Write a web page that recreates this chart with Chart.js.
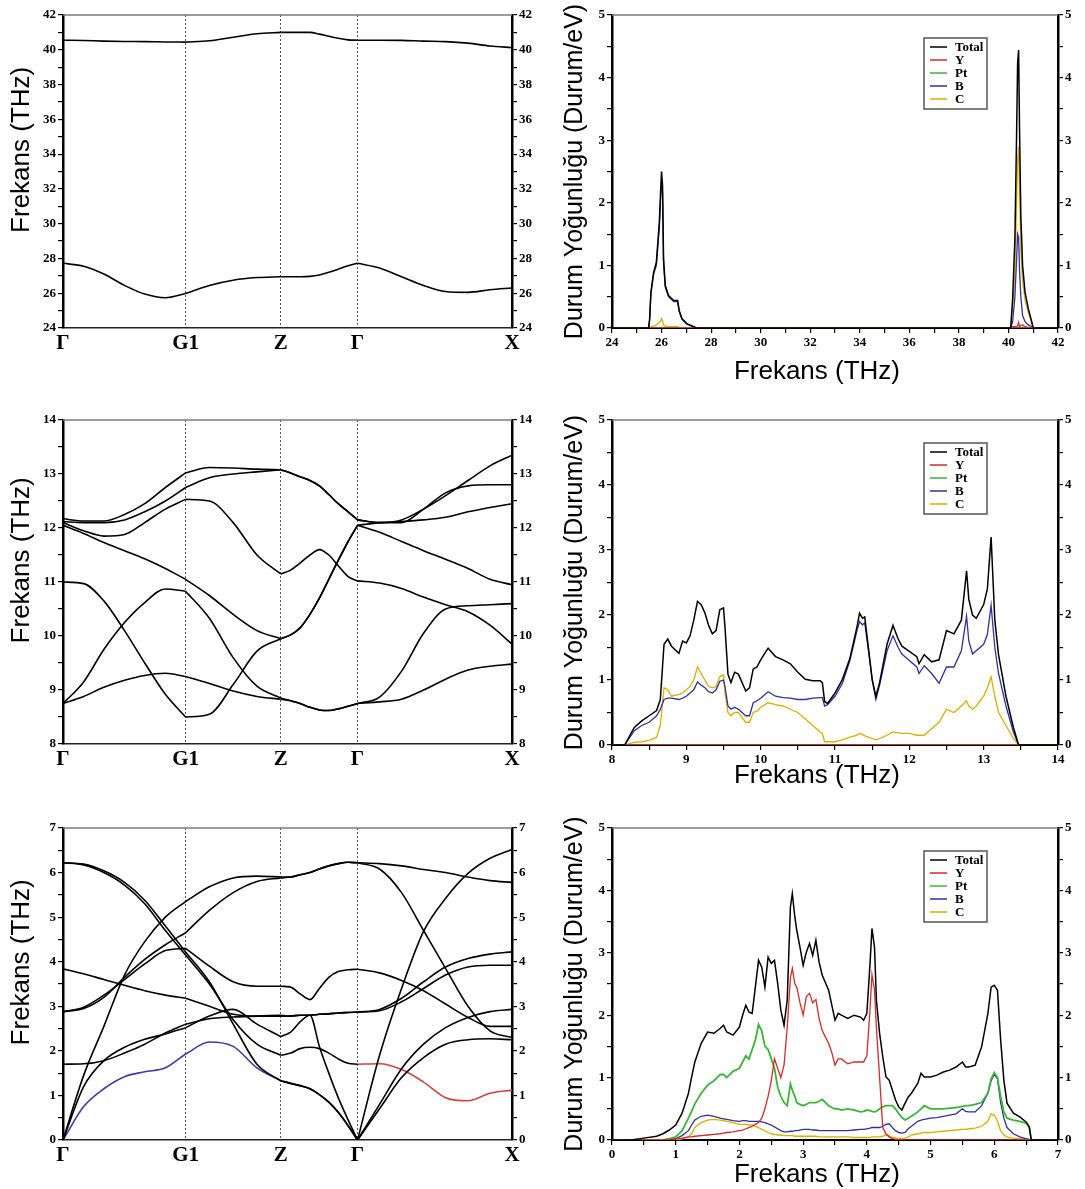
<!DOCTYPE html>
<html>
<head>
<meta charset="utf-8">
<script src="https://cdn.jsdelivr.net/npm/chart.js@4.4.0/dist/chart.umd.min.js"></script>
<style>
  body { margin: 0; background: #fff; width: 1085px; height: 1189px; position: relative; overflow: hidden; }
  canvas { position: absolute; }
</style>
</head>
<body>
<canvas id="bandTop" width="545" height="390" style="left:0;top:0"></canvas>
<canvas id="dosTop" width="540" height="390" style="left:545px;top:0"></canvas>
<canvas id="bandMid" width="545" height="400" style="left:0;top:390px"></canvas>
<canvas id="dosMid" width="540" height="400" style="left:545px;top:390px"></canvas>
<canvas id="bandLow" width="545" height="399" style="left:0;top:790px"></canvas>
<canvas id="dosLow" width="540" height="399" style="left:545px;top:790px"></canvas>
<script>
// ---- k-path (fractional distance along Γ-G1-Z-Γ-X) ----
const kPath = [0, 0.046, 0.091, 0.137, 0.182, 0.228, 0.273,
               0.326, 0.379, 0.432, 0.485,
               0.507, 0.528, 0.55, 0.571, 0.592, 0.613, 0.635, 0.656,
               0.705, 0.754, 0.803, 0.852, 0.902, 0.951, 1];
const segStarts = [0, 6, 10, 18, 25];
const kTicks = [0, 0.273, 0.485, 0.656, 1];
const kLabels = ['Γ', 'G1', 'Z', 'Γ', 'X'];

// ---- phonon branches, 24-42 THz ----
const topHi = [40.55, 40.53, 40.5, 40.48, 40.47, 40.45, 40.44, 40.52, 40.72, 40.92, 41.0,
               41.0, 41.0, 41.0, 40.9, 40.78, 40.66, 40.57, 40.55,
               40.55, 40.54, 40.5, 40.47, 40.38, 40.22, 40.12];
const topLo = [27.72, 27.55, 27.1, 26.45, 25.95, 25.74, 25.98, 26.45, 26.75, 26.9, 26.95,
               26.95, 26.95, 26.97, 27.05, 27.2, 27.38, 27.58, 27.72,
               27.45, 26.95, 26.45, 26.1, 26.05, 26.2, 26.3];

// ---- phonon branches, 8-14 THz ----
const midA = [12.17, 12.13, 12.13, 12.25, 12.45, 12.75, 13.02, 13.12, 13.11, 13.09, 13.08,
              13.02, 12.95, 12.88, 12.78, 12.62, 12.45, 12.3, 12.15,
              12.1, 12.15, 12.35, 12.6, 12.88, 13.15, 13.35];
const midB = [12.12, 12.1, 12.1, 12.15, 12.3, 12.5, 12.75, 12.93, 13.0, 13.04, 13.08,
              13.02, 12.95, 12.88, 12.78, 12.62, 12.45, 12.3, 12.15,
              12.1, 12.1, 12.35, 12.65, 12.78, 12.8, 12.8];
const midC = [12.1, 11.95, 11.85, 11.88, 12.1, 12.35, 12.53, 12.5, 12.1, 11.5, 11.15,
              11.22, 11.35, 11.5, 11.6, 11.5, 11.3, 11.1, 11.02,
              10.98, 10.88, 10.72, 10.58, 10.45, 10.2, 9.85];
const midD = [12.05, 11.9, 11.73, 11.58, 11.43, 11.25, 11.05, 10.75, 10.4, 10.1, 9.95,
              10.02, 10.15, 10.4, 10.7, 11.05, 11.4, 11.75, 12.05,
              12.1, 12.12, 12.15, 12.2, 12.3, 12.38, 12.45];
const midE = [11.0, 10.97, 10.65, 10.1, 9.5, 8.92, 8.5, 8.55, 9.1, 9.72, 9.95,
              10.02, 10.15, 10.4, 10.7, 11.05, 11.4, 11.75, 12.05,
              11.92, 11.75, 11.58, 11.42, 11.25, 11.05, 10.95];
const midF = [8.75, 9.15, 9.75, 10.25, 10.62, 10.87, 10.83, 10.33, 9.6, 9.07, 8.85,
              8.8, 8.75, 8.68, 8.63, 8.62, 8.65, 8.7, 8.75,
              8.87, 9.35, 10.05, 10.5, 10.56, 10.58, 10.6];
const midG = [8.75, 8.88, 9.05, 9.18, 9.27, 9.31, 9.25, 9.12, 8.98, 8.88, 8.83,
              8.8, 8.75, 8.68, 8.63, 8.62, 8.65, 8.7, 8.75,
              8.78, 8.83, 9.0, 9.2, 9.37, 9.44, 9.48];

// ---- phonon branches, 0-7 THz ----
const lowAc1 = [0, 0.75, 1.15, 1.42, 1.53, 1.62, 1.93, 2.2, 2.1, 1.62, 1.33,
                1.27, 1.22, 1.15, 1.02, 0.85, 0.62, 0.32, 0,
                0.7, 1.4, 1.85, 2.15, 2.25, 2.27, 2.25];
const lowDescA = [6.22, 6.19, 6.04, 5.78, 5.38, 4.8, 4.22, 3.55, 2.6, 1.7, 1.33,
                  1.27, 1.22, 1.15, 1.02, 0.85, 0.62, 0.32, 0,
                  0.8, 1.6, 2.15, 2.52, 2.75, 2.88, 2.93];
const lowDescB = [6.22, 6.17, 6.0, 5.72, 5.3, 4.7, 4.15, 3.5, 2.7, 2.15, 1.9,
                  1.95, 2.05, 2.08, 2.05, 1.95, 1.82, 1.72, 1.7,
                  1.71, 1.58, 1.3, 0.95, 0.88, 1.05, 1.12];
const lowHump = [2.88, 2.98, 3.25, 3.6, 3.95, 4.25, 4.3, 3.9, 3.55, 3.45, 3.45,
                 3.43, 3.28, 3.15, 3.4, 3.65, 3.78, 3.82, 3.83,
                 3.75, 3.58, 3.35, 3.05, 2.75, 2.55, 2.55];
const lowRise = [2.88, 2.95, 3.2, 3.65, 4.05, 4.38, 4.65, 5.15, 5.55, 5.8, 5.88,
                 5.9, 5.95, 6.0, 6.08, 6.15, 6.2, 6.23, 6.22,
                 6.08, 5.55, 4.7, 3.85, 3.0, 2.45, 2.3];
const lowAc2 = [0, 1.45, 2.55, 3.7, 4.45, 5.0, 5.35, 5.68, 5.88, 5.92, 5.9,
                5.9, 5.95, 6.0, 6.08, 6.15, 6.2, 6.23, 6.22,
                6.2, 6.15, 6.07, 6.0, 5.9, 5.82, 5.78];
const lowFlatA = [3.84, 3.73, 3.6, 3.47, 3.35, 3.25, 3.18, 3.0, 2.82, 2.78, 2.78,
                  2.78, 2.8, 2.8, 2.82, 2.83, 2.85, 2.86, 2.87,
                  2.93, 3.18, 3.55, 3.88, 4.07, 4.17, 4.22];
const lowFlatB = [1.7, 1.71, 1.78, 1.95, 2.15, 2.4, 2.6, 2.72, 2.76, 2.78, 2.8,
                  2.78, 2.8, 2.8, 2.82, 2.83, 2.85, 2.86, 2.87,
                  2.9, 3.1, 3.4, 3.7, 3.88, 3.92, 3.92];
const lowAc3 = [0, 1.2, 1.78, 2.08, 2.26, 2.38, 2.52, 2.78, 2.93, 2.6, 2.32,
                2.42, 2.65, 2.8, 2.1, 1.5, 0.95, 0.45, 0,
                1.9, 3.4, 4.68, 5.42, 5.98, 6.32, 6.52];

// ---- DOS, 24-42 THz ----
const dosTopFreq = [24, 25.48, 25.52, 25.57, 25.68, 25.79, 25.85, 25.91, 25.96, 26.0, 26.04,
                    26.08, 26.15, 26.28, 26.49, 26.65, 26.71, 26.82, 27.02, 27.3, 27.4,
                    40.09, 40.17, 40.26, 40.33, 40.37, 40.41, 40.45, 40.5, 40.57, 40.67,
                    40.8, 40.94, 41.0, 42];
const dosTopTotal = [0, 0, 0.15, 0.57, 0.89, 1.05, 1.37, 1.69, 2.16, 2.5, 2.27,
                     1.1, 0.68, 0.52, 0.44, 0.44, 0.28, 0.15, 0.07, 0.02, 0,
                     0, 0.47, 1.42, 3.12, 4.23, 4.44, 3.12, 1.79, 1.0, 0.57,
                     0.31, 0.1, 0, 0];
const dosTopB = [0, 0, 0.14, 0.55, 0.86, 1.0, 1.3, 1.6, 2.05, 2.35, 2.15,
                 1.05, 0.65, 0.5, 0.42, 0.42, 0.27, 0.14, 0.06, 0.02, 0,
                 0, 0.1, 0.5, 1.1, 1.5, 1.45, 0.9, 0.5, 0.2, 0.1,
                 0.05, 0.02, 0, 0];
const dosTopC = [0, 0, 0.01, 0.02, 0.03, 0.05, 0.07, 0.09, 0.11, 0.15, 0.12,
                 0.05, 0.03, 0.02, 0.02, 0.02, 0.01, 0.01, 0, 0, 0,
                 0, 0.35, 0.9, 2.0, 2.7, 2.9, 2.2, 1.25, 0.75, 0.45,
                 0.25, 0.08, 0, 0];
const dosTopYFreq = [24, 40.09, 40.17, 40.26, 40.33, 40.37, 40.41, 40.45, 40.5, 40.57, 40.67, 40.8, 40.94, 42];
const dosTopY = [0, 0, 0.02, 0.02, 0.02, 0.03, 0.09, 0.02, 0.04, 0.05, 0.02, 0.01, 0, 0];
const dosTopPtFreq = [24, 42];
const dosTopPt = [0, 0];

// ---- DOS, 8-14 THz ----
const dosMidFreq = [8, 8.17, 8.3, 8.4, 8.5, 8.6, 8.65, 8.7, 8.75, 8.8,
                    8.9, 8.95, 9.0, 9.05, 9.1, 9.15, 9.2, 9.25, 9.3, 9.35,
                    9.4, 9.45, 9.5, 9.52, 9.56, 9.6, 9.65, 9.7, 9.75, 9.8,
                    9.85, 9.9, 9.95, 10.0, 10.1, 10.2, 10.3, 10.4, 10.5, 10.6,
                    10.7, 10.8, 10.83, 10.86, 10.9, 11.0, 11.1, 11.2, 11.3, 11.33,
                    11.37, 11.4, 11.45, 11.5, 11.55, 11.6, 11.7, 11.78, 11.85, 11.9,
                    12.0, 12.1, 12.13, 12.2, 12.3, 12.4, 12.5, 12.6, 12.7, 12.77,
                    12.8, 12.85, 12.9, 13.0, 13.05, 13.1, 13.15, 13.2, 13.3, 13.4,
                    13.47, 14];
const dosMidTotal = [0, 0, 0.27, 0.37, 0.45, 0.53, 0.7, 1.55, 1.63, 1.52,
                     1.41, 1.6, 1.57, 1.68, 1.92, 2.21, 2.16, 2.03, 1.84, 1.71,
                     1.76, 2.08, 2.11, 1.81, 1.09, 0.96, 1.12, 1.09, 0.96, 0.83,
                     0.88, 1.17, 1.2, 1.31, 1.49, 1.36, 1.31, 1.25, 1.12, 1.01,
                     0.99, 0.99, 0.96, 0.67, 0.64, 0.8, 1.01, 1.33, 1.84, 2.03,
                     1.95, 1.97, 1.49, 1.01, 0.75, 0.96, 1.55, 1.84, 1.63, 1.52,
                     1.44, 1.36, 1.25, 1.39, 1.28, 1.31, 1.76, 1.71, 1.92, 2.68,
                     2.24, 2.0, 1.95, 2.16, 2.4, 3.2, 1.92, 1.39, 0.75, 0.27,
                     0, 0];
const dosMidB = [0, 0, 0.22, 0.3, 0.35, 0.45, 0.55, 0.7, 0.72, 0.72,
                 0.7, 0.72, 0.75, 0.8, 0.85, 0.97, 0.92, 0.88, 0.82, 0.8,
                 0.85, 0.98, 1.0, 0.9, 0.6, 0.55, 0.58, 0.55, 0.5, 0.45,
                 0.45, 0.65, 0.68, 0.72, 0.82, 0.75, 0.73, 0.72, 0.7, 0.7,
                 0.72, 0.73, 0.73, 0.6, 0.62, 0.75, 0.95, 1.3, 1.78, 1.9,
                 1.85, 1.88, 1.45, 1.0, 0.7, 0.92, 1.45, 1.68, 1.5, 1.4,
                 1.3, 1.2, 1.1, 1.22, 1.1, 0.95, 1.2, 1.2, 1.45, 1.98,
                 1.6, 1.4, 1.45, 1.55, 1.7, 2.15, 1.5, 1.1, 0.6, 0.2,
                 0, 0];
const dosMidC = [0, 0, 0.04, 0.05, 0.07, 0.12, 0.3, 0.88, 0.85, 0.75,
                 0.78, 0.8, 0.85, 0.9, 1.0, 1.2, 1.1, 1.0, 0.9, 0.88,
                 0.9, 1.05, 1.08, 0.8, 0.5, 0.45, 0.5, 0.5, 0.42, 0.35,
                 0.35, 0.5, 0.52, 0.58, 0.65, 0.62, 0.6, 0.55, 0.5, 0.4,
                 0.3, 0.2, 0.18, 0.05, 0.05, 0.05, 0.08, 0.12, 0.15, 0.18,
                 0.16, 0.14, 0.12, 0.1, 0.08, 0.1, 0.15, 0.2, 0.19, 0.18,
                 0.18, 0.15, 0.15, 0.15, 0.25, 0.35, 0.55, 0.5, 0.6, 0.68,
                 0.6, 0.55, 0.6, 0.75, 0.88, 1.05, 0.75, 0.5, 0.3, 0.1,
                 0, 0];
const dosMidYFreq = [8, 14];
const dosMidY = [0, 0];
const dosMidPtFreq = [8, 14];
const dosMidPt = [0, 0];

// ---- DOS, 0-7 THz ----
const dosLowFreq = [0, 0.3, 0.5, 0.7, 0.8, 0.9, 1.0, 1.1, 1.2, 1.25,
                    1.3, 1.4, 1.5, 1.6, 1.7, 1.75, 1.8, 1.9, 2.0, 2.05,
                    2.1, 2.15, 2.2, 2.25, 2.3, 2.35, 2.4, 2.45, 2.5, 2.55,
                    2.6, 2.65, 2.7, 2.75, 2.8, 2.83, 2.87, 2.9, 2.95, 3.0,
                    3.05, 3.1, 3.15, 3.2, 3.25, 3.3, 3.4, 3.45, 3.5, 3.55,
                    3.6, 3.7, 3.8, 3.9, 3.95, 4.0, 4.05, 4.08, 4.12, 4.15,
                    4.2, 4.25, 4.3, 4.35, 4.4, 4.45, 4.5, 4.55, 4.6, 4.65,
                    4.7, 4.8, 4.85, 4.9, 5.0, 5.1, 5.2, 5.3, 5.4, 5.5,
                    5.55, 5.6, 5.7, 5.8, 5.9, 5.95, 6.0, 6.05, 6.1, 6.15,
                    6.2, 6.3, 6.4, 6.5, 6.55, 6.58, 7];
const dosLowTotal = [0, 0, 0.03, 0.06, 0.1, 0.16, 0.24, 0.43, 0.75, 1.01,
                     1.25, 1.55, 1.73, 1.71, 1.79, 1.84, 1.73, 1.68, 1.81, 2.0,
                     2.16, 2.05, 2.03, 2.45, 2.88, 2.77, 2.45, 2.93, 2.83, 2.88,
                     2.51, 2.08, 1.84, 2.24, 3.73, 3.95, 3.57, 3.36, 3.09, 2.8,
                     3.01, 3.15, 2.96, 3.2, 2.85, 2.64, 2.4, 2.16, 1.92, 2.03,
                     2.0, 1.95, 2.0, 1.97, 1.92, 2.03, 2.83, 3.39, 3.09, 2.24,
                     1.71, 1.33, 1.01, 0.96, 0.8, 0.64, 0.53, 0.48, 0.59, 0.69,
                     0.75, 0.91, 1.07, 1.01, 1.01, 1.04, 1.09, 1.12, 1.17, 1.25,
                     1.17, 1.17, 1.2, 1.49, 2.03, 2.45, 2.48, 2.4, 1.6, 0.96,
                     0.59, 0.43, 0.37, 0.29, 0.21, 0, 0];
const dosLowY = [0, 0, 0, 0, 0, 0.01, 0.02, 0.03, 0.05, 0.05,
                 0.06, 0.07, 0.08, 0.09, 0.1, 0.11, 0.12, 0.13, 0.15, 0.16,
                 0.18, 0.2, 0.22, 0.25, 0.28, 0.35, 0.5, 0.7, 0.95, 1.3,
                 1.15, 1.0, 1.2, 1.8, 2.6, 2.75, 2.5, 2.45, 2.2, 2.0,
                 2.3, 2.35, 2.2, 2.25, 1.95, 1.75, 1.55, 1.4, 1.2, 1.3,
                 1.3, 1.22, 1.25, 1.25, 1.25, 1.35, 2.1, 2.65, 2.4, 1.8,
                 1.0, 0.2, 0.1, 0.05, 0.02, 0.01, 0, 0, 0, 0,
                 0, 0, 0, 0, 0, 0, 0, 0, 0, 0,
                 0, 0, 0, 0, 0, 0, 0, 0, 0, 0,
                 0, 0, 0, 0, 0, 0, 0];
const dosLowPt = [0, 0, 0, 0, 0, 0.02, 0.05, 0.15, 0.35, 0.46,
                  0.58, 0.75, 0.88, 0.95, 1.05, 1.05, 1.0, 1.1, 1.15, 1.25,
                  1.35, 1.3, 1.45, 1.6, 1.85, 1.75, 1.5, 1.45, 1.3, 1.15,
                  0.85, 0.7, 0.6, 0.55, 0.9, 0.8, 0.7, 0.6, 0.57, 0.55,
                  0.57, 0.6, 0.6, 0.6, 0.62, 0.65, 0.55, 0.52, 0.5, 0.5,
                  0.48, 0.5, 0.48, 0.45, 0.46, 0.48, 0.47, 0.46, 0.45, 0.46,
                  0.5, 0.53, 0.55, 0.55, 0.55, 0.5, 0.42, 0.36, 0.32, 0.35,
                  0.38, 0.45, 0.5, 0.55, 0.5, 0.5, 0.5, 0.51, 0.52, 0.54,
                  0.55, 0.55, 0.57, 0.6, 0.75, 0.98, 1.08, 1.0, 0.7, 0.45,
                  0.35, 0.32, 0.3, 0.27, 0.2, 0, 0];
const dosLowB = [0, 0, 0, 0, 0, 0, 0.02, 0.07, 0.15, 0.24,
                 0.32, 0.38, 0.4, 0.38, 0.35, 0.34, 0.33, 0.31, 0.3, 0.31,
                 0.31, 0.3, 0.3, 0.3, 0.3, 0.29, 0.28, 0.26, 0.24, 0.21,
                 0.18, 0.15, 0.13, 0.13, 0.14, 0.14, 0.15, 0.15, 0.16, 0.17,
                 0.17, 0.17, 0.16, 0.16, 0.15, 0.15, 0.15, 0.15, 0.15, 0.15,
                 0.15, 0.15, 0.16, 0.17, 0.17, 0.18, 0.19, 0.2, 0.2, 0.2,
                 0.2, 0.22, 0.25, 0.26, 0.2, 0.15, 0.12, 0.11, 0.12, 0.18,
                 0.22, 0.3, 0.32, 0.33, 0.35, 0.36, 0.38, 0.4, 0.42, 0.5,
                 0.46, 0.45, 0.45, 0.55, 0.75, 0.95, 1.05, 0.98, 0.6, 0.35,
                 0.2, 0.1, 0.05, 0.02, 0.01, 0, 0];
const dosLowC = [0, 0, 0, 0, 0, 0, 0, 0.02, 0.05, 0.1,
                 0.2, 0.28, 0.32, 0.33, 0.32, 0.31, 0.3, 0.28, 0.25, 0.25,
                 0.25, 0.24, 0.24, 0.22, 0.2, 0.17, 0.15, 0.12, 0.1, 0.09,
                 0.08, 0.08, 0.07, 0.07, 0.07, 0.07, 0.06, 0.06, 0.06, 0.06,
                 0.06, 0.06, 0.06, 0.06, 0.05, 0.05, 0.05, 0.05, 0.05, 0.05,
                 0.05, 0.05, 0.04, 0.04, 0.04, 0.04, 0.04, 0.05, 0.05, 0.05,
                 0.05, 0.06, 0.08, 0.07, 0.04, 0.03, 0.02, 0.02, 0.03, 0.05,
                 0.08, 0.1, 0.11, 0.12, 0.12, 0.13, 0.14, 0.15, 0.16, 0.17,
                 0.17, 0.18, 0.19, 0.22, 0.3, 0.42, 0.4, 0.3, 0.15, 0.08,
                 0.05, 0.03, 0.02, 0.01, 0, 0, 0];

// ---- axis tick labels ----
const freqLabelsTop = [24, 26, 28, 30, 32, 34, 36, 38, 40, 42];
const freqLabelsMid = [8, 9, 10, 11, 12, 13, 14];
const freqLabelsLow = [0, 1, 2, 3, 4, 5, 6, 7];
const dosLabels = [0, 1, 2, 3, 4, 5];

const colTotal = '#000000', colY = '#d42a2a', colPt = '#3cb43c', colB = '#30309e', colC = '#d9b000';
const colBlueBand = '#3c3ca8', colRedBand = '#d24040';

const serif = '"Liberation Serif", "Times New Roman", serif';
const sans = '"Liberation Sans", Arial, sans-serif';
const tickFont = { family: serif, size: 13, weight: 'bold' };

// padding blanks nudge the titles off the exact axis centre
const bandTitle = '      Frekans (THz)';
const dosFreqTitle = 'Frekans (THz)     ';

// thin grey line along the top of the plot box
const topEdge = {
  id: 'topEdge',
  afterDatasetsDraw(chart) {
    const { ctx, chartArea: a } = chart;
    ctx.save();
    ctx.strokeStyle = '#7a7a7a';
    ctx.lineWidth = 1.5;
    ctx.beginPath();
    ctx.moveTo(a.left, a.top);
    ctx.lineTo(a.right, a.top);
    ctx.stroke();
    ctx.restore();
  }
};

// boxed legend inside the DOS plots
const dosLegend = {
  id: 'dosLegend',
  afterDraw(chart) {
    const { ctx, chartArea: a } = chart;
    const x = a.left + 312, y = a.top + 23, w = 63, h = 71;
    ctx.save();
    ctx.fillStyle = '#fff';
    ctx.fillRect(x, y, w, h);
    ctx.strokeStyle = '#555';
    ctx.lineWidth = 1.5;
    ctx.strokeRect(x, y, w, h);
    ctx.font = 'bold 13px ' + serif;
    ctx.textBaseline = 'middle';
    chart.data.datasets.forEach((d, i) => {
      const ry = y + 9 + i * 13;
      ctx.strokeStyle = d.borderColor;
      ctx.lineWidth = 1.5;
      ctx.beginPath();
      ctx.moveTo(x + 6, ry);
      ctx.lineTo(x + 23, ry);
      ctx.stroke();
      ctx.fillStyle = '#000';
      ctx.fillText(d.label, x + 31, ry + 1);
    });
    ctx.restore();
  }
};

// split every branch at the high-symmetry points
function bandSets(bands, tint) {
  const sets = [];
  bands.forEach((b, bi) => {
    for (let s = 0; s < 4; s++) {
      const pts = [];
      for (let i = segStarts[s]; i <= segStarts[s + 1]; i++) pts.push({ x: kPath[i], y: b[i] });
      const col = (tint[bi] && tint[bi][s]) || '#000';
      sets.push({ data: pts, borderColor: col, order: col === '#000' ? 0 : 1 });
    }
  });
  return sets;
}

function yAxis(side, min, max, step, labels, width, title) {
  const ax = {
    type: 'linear', position: side, min: min, max: max,
    ticks: { stepSize: step, autoSkip: false, color: '#000', font: tickFont, padding: 2,
             callback: v => labels.includes(v) ? String(v) : '' },
    grid: { drawOnChartArea: false, tickLength: 5, color: '#000', lineWidth: 1.2 },
    border: { color: '#000', width: 2.5 },
    afterFit: s => { s.width = width; }
  };
  if (title) ax.title = { display: true, text: title.text, color: '#000',
                          font: { family: sans, size: title.size, weight: 'normal' },
                          padding: { top: title.pad, bottom: 0 } };
  return ax;
}

function bandChart(id, bands, tint, min, max, step, labels, pad) {
  new Chart(document.getElementById(id), {
    type: 'line',
    data: { datasets: bandSets(bands, tint) },
    options: {
      responsive: false, animation: false, devicePixelRatio: 1,
      layout: { padding: { top: pad.top, left: 0, right: 0, bottom: 0 } },
      plugins: { legend: { display: false }, tooltip: { enabled: false } },
      elements: { point: { radius: 0 }, line: { borderWidth: 1.6, cubicInterpolationMode: 'monotone' } },
      scales: {
        x: {
          type: 'linear', min: 0, max: 1,
          afterBuildTicks: s => { s.ticks = kTicks.map(v => ({ value: v })); },
          ticks: { autoSkip: false, maxRotation: 0, color: '#000', padding: 3,
                   font: { family: serif, size: 21, weight: 'bold' },
                   callback: (v, i) => kLabels[i] },
          grid: { drawTicks: false, lineWidth: 1,
                  color: c => (c.index === 0 || c.index === kTicks.length - 1) ? 'rgba(0,0,0,0)' : '#555' },
          border: { color: '#222', width: 1.5, dash: [2, 2] },
          afterFit: s => { s.height = pad.bottom; }
        },
        y: yAxis('left', min, max, step, labels, 63, { text: bandTitle, size: 26, pad: 6 }),
        y2: yAxis('right', min, max, step, labels, 33)
      }
    },
    plugins: [topEdge]
  });
}

function dosChart(id, series, min, max, step, labels, pad) {
  new Chart(document.getElementById(id), {
    type: 'line',
    data: {
      datasets: series.map(s => ({
        label: s.label,
        data: s.x.map((f, i) => ({ x: f, y: s.y[i] })),
        borderColor: s.color,
        borderWidth: s.width || 1.3
      }))
    },
    options: {
      responsive: false, animation: false, devicePixelRatio: 1,
      layout: { padding: { top: pad.top, left: 0, right: 0, bottom: 0 } },
      plugins: { legend: { display: false }, tooltip: { enabled: false } },
      elements: { point: { radius: 0 }, line: { tension: 0 } },
      scales: {
        x: {
          type: 'linear', min: min, max: max,
          ticks: { stepSize: step, autoSkip: false, maxRotation: 0, color: '#000', font: tickFont, padding: 2,
                   callback: v => labels.includes(v) ? String(v) : '' },
          grid: { drawOnChartArea: false, tickLength: 5, color: '#000', lineWidth: 1.2 },
          border: { color: '#000', width: 2 },
          title: { display: true, text: dosFreqTitle, color: '#000',
                   font: { family: sans, size: 26, weight: 'normal' },
                   padding: { top: 0, bottom: pad.title } },
          afterFit: s => { s.height = pad.bottom; }
        },
        y: yAxis('left', 0, 5, 0.5, dosLabels, 67, { text: 'Durum Yoğunluğu (Durum/eV)', size: 25, pad: 15 }),
        y2: yAxis('right', 0, 5, 0.5, dosLabels, 27)
      }
    },
    plugins: [topEdge, dosLegend]
  });
}

// ---- band structures ----
bandChart('bandTop', [topHi, topLo], [], 24, 42, 1, freqLabelsTop, { top: 15, bottom: 62 });
bandChart('bandMid', [midA, midB, midC, midD, midE, midF, midG], [], 8, 14, 0.5, freqLabelsMid, { top: 30, bottom: 46 });
bandChart('bandLow',
  [lowAc1, lowDescA, lowDescB, lowHump, lowRise, lowAc2, lowFlatA, lowFlatB, lowAc3],
  [[colBlueBand, colBlueBand], null, [null, null, null, colRedBand]],
  0, 7, 0.5, freqLabelsLow, { top: 38, bottom: 49 });

// ---- densities of states ----
dosChart('dosTop', [
  { label: 'Total', x: dosTopFreq, y: dosTopTotal, color: colTotal, width: 1.5 },
  { label: 'Y', x: dosTopYFreq, y: dosTopY, color: colY },
  { label: 'Pt', x: dosTopPtFreq, y: dosTopPt, color: colPt },
  { label: 'B', x: dosTopFreq, y: dosTopB, color: colB },
  { label: 'C', x: dosTopFreq, y: dosTopC, color: colC }
], 24, 42, 1, freqLabelsTop, { top: 15, bottom: 62, title: 3 });

dosChart('dosMid', [
  { label: 'Total', x: dosMidFreq, y: dosMidTotal, color: colTotal, width: 1.5 },
  { label: 'Y', x: dosMidYFreq, y: dosMidY, color: colY },
  { label: 'Pt', x: dosMidPtFreq, y: dosMidPt, color: colPt },
  { label: 'B', x: dosMidFreq, y: dosMidB, color: colB },
  { label: 'C', x: dosMidFreq, y: dosMidC, color: colC }
], 8, 14, 0.5, freqLabelsMid, { top: 30, bottom: 45, title: -1 });

dosChart('dosLow', [
  { label: 'Total', x: dosLowFreq, y: dosLowTotal, color: colTotal, width: 1.5 },
  { label: 'Y', x: dosLowFreq, y: dosLowY, color: colY },
  { label: 'Pt', x: dosLowFreq, y: dosLowPt, color: colPt, width: 1.8 },
  { label: 'B', x: dosLowFreq, y: dosLowB, color: colB },
  { label: 'C', x: dosLowFreq, y: dosLowC, color: colC }
], 0, 7, 0.5, freqLabelsLow, { top: 38, bottom: 49, title: -1 });
</script>
</body>
</html>
